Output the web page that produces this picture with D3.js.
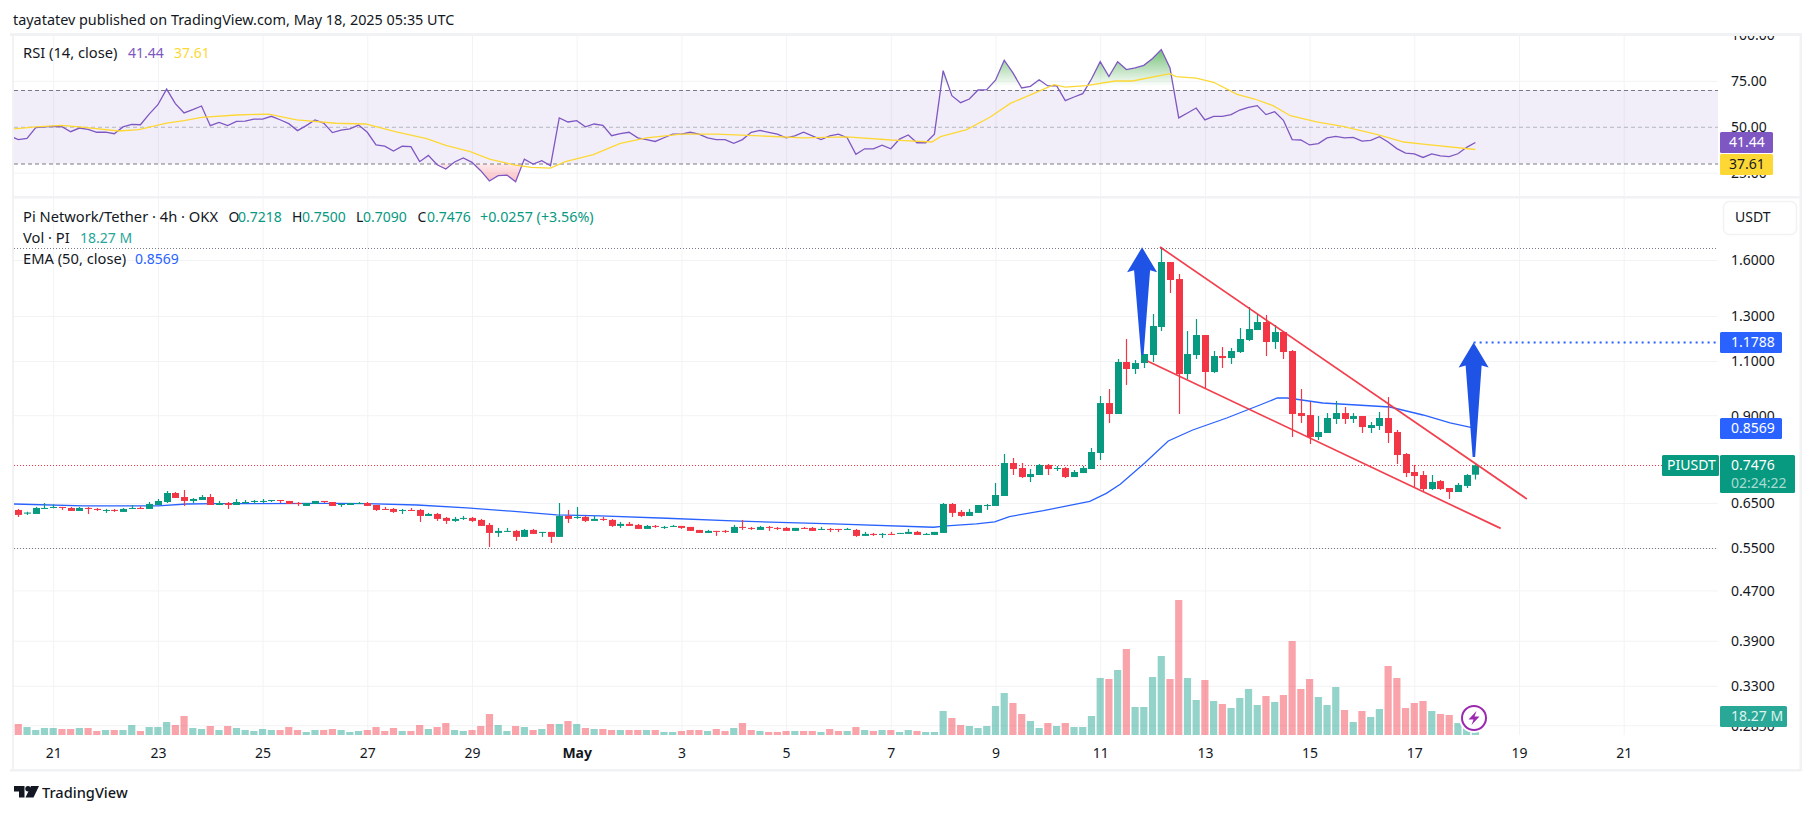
<!DOCTYPE html>
<html><head><meta charset="utf-8">
<script src="https://cdn.jsdelivr.net/npm/d3@7/dist/d3.min.js"></script>
<style>html,body{margin:0;padding:0;background:#fff;overflow:hidden}svg{display:block}text{font-family:"Noto Sans",sans-serif}</style>
</head><body><svg id="c" width="1814" height="814"></svg>
<script>
const opens=[.6333,.6248,.6240,.6357,.6380,.6404,.6380,.6310,.6380,.6357,.6310,.6333,
.6287,.6357,.6380,.6357,.6451,.6523,.6744,.6645,.6548,.6572,.6645,.6451,
.6499,.6451,.6499,.6523,.6523,.6548,.6572,.6548,.6499,.6428,.6475,.6548,
.6523,.6451,.6451,.6475,.6499,.6451,.6357,.6357,.6310,.6333,.6333,.6194,
.6240,.6149,.6081,.6126,.6149,.6103,.5991,.5816,.5838,.5860,.5731,.5881,
.5816,.5838,.5731,.6194,.6149,.6171,.6081,.6126,.6103,.5969,.6014,.5991,
.5903,.5969,.5925,.5947,.5969,.5947,.5881,.5816,.5860,.5860,.5816,.5947,
.5925,.5881,.5947,.5925,.5925,.5860,.5925,.5925,.5881,.5903,.5903,.5881,
.5881,.5752,.5795,.5773,.5795,.5795,.5795,.5838,.5773,.5773,.5816,.6475,
.6287,.6194,.6264,.6428,.6428,.6670,.7537,.7398,.7155,.7209,.7483,.7371,
.7398,.7155,.7262,.7371,.7822,.9414,.9039,1.0961,1.0680,1.0920,1.1249,1.2480,
1.5881,1.4910,1.0483,1.1249,1.2115,1.0562,1.1207,1.1124,1.1375,1.1893,1.2342,1.2713,
1.1805,1.2250,1.1417,.9072,.9005,.8300,.8424,.8873,.9072,.8873,.8972,.8582,
.8645,.8906,.8455,.7793,.7290,.7209,.6844,.7050,.6870,.6769,.6923,.7218];
const closes=[.6217,.6272,.6380,.6380,.6404,.6380,.6310,.6380,.6357,.6333,.6333,.6310,
.6357,.6380,.6357,.6475,.6548,.6744,.6621,.6548,.6596,.6645,.6451,.6499,
.6451,.6523,.6523,.6548,.6548,.6572,.6548,.6475,.6475,.6499,.6548,.6523,
.6428,.6475,.6499,.6499,.6428,.6333,.6333,.6287,.6333,.6310,.6194,.6240,
.6126,.6081,.6126,.6149,.6081,.5969,.5816,.5860,.5860,.5731,.5881,.5795,
.5838,.5731,.6194,.6126,.6171,.6081,.6126,.6103,.5969,.6014,.5969,.5903,
.5969,.5947,.5947,.5969,.5925,.5860,.5816,.5860,.5838,.5838,.5947,.5925,
.5903,.5947,.5925,.5903,.5860,.5925,.5903,.5860,.5903,.5881,.5881,.5903,
.5752,.5795,.5773,.5795,.5773,.5816,.5838,.5773,.5795,.5838,.6475,.6264,
.6194,.6287,.6451,.6451,.6694,.7537,.7371,.7155,.7236,.7483,.7371,.7398,
.7155,.7290,.7398,.7851,.9414,.9039,1.0961,1.0680,1.0920,1.1291,1.2526,1.5881,
1.4856,1.0483,1.1291,1.2115,1.0562,1.1207,1.1124,1.1417,1.1937,1.2387,1.2713,1.1805,
1.2250,1.1375,.9039,.8972,.8300,.8455,.8906,.9072,.8873,.8972,.8613,.8677,
.8906,.8424,.7764,.7262,.7182,.6844,.7025,.6844,.6769,.6949,.7209,.7476];
const highs=[.6357,.6292,.6404,.6499,.6467,.6404,.6404,.6404,.6404,.6380,.6357,.6357,
.6380,.6451,.6420,.6523,.6596,.6794,.6769,.6819,.6621,.6694,.6719,.6548,
.6523,.6596,.6572,.6572,.6596,.6572,.6572,.6548,.6523,.6499,.6548,.6548,
.6523,.6499,.6499,.6523,.6523,.6451,.6404,.6380,.6357,.6380,.6357,.6264,
.6264,.6171,.6171,.6194,.6171,.6126,.6036,.5925,.5925,.5881,.5903,.5903,
.5838,.5838,.6499,.6333,.6404,.6194,.6194,.6171,.6126,.6058,.6058,.6014,
.5991,.5991,.5969,.5991,.5969,.5947,.5881,.5881,.5860,.5881,.5991,.6103,
.5947,.5969,.5969,.5947,.5947,.5925,.5947,.5947,.5947,.5925,.5903,.5925,
.5903,.5838,.5816,.5816,.5838,.5816,.5903,.5860,.5816,.5838,.6499,.6499,
.6333,.6357,.6451,.6475,.6999,.7793,.7678,.7537,.7371,.7510,.7510,.7456,
.7425,.7344,.7456,.7968,.9663,.9917,1.1084,1.1937,1.1042,1.1291,1.3096,1.6789,
1.5881,1.5190,1.2296,1.2855,1.2115,1.1417,1.1587,1.1545,1.2434,1.3440,1.3096,1.3047,
1.2573,1.2296,1.1459,.9917,.9450,.8972,.9072,.9485,.9277,.9072,.8972,.8775,
.9106,.9626,.8518,.7822,.7483,.7317,.7209,.7076,.6870,.6999,.7236,.7500];
const lows=[.6171,.6217,.6240,.6357,.6372,.6333,.6310,.6310,.6240,.6310,.6264,.6287,
.6287,.6357,.6357,.6357,.6451,.6499,.6621,.6428,.6499,.6572,.6451,.6451,
.6357,.6451,.6475,.6475,.6499,.6523,.6499,.6475,.6428,.6428,.6475,.6499,
.6428,.6404,.6451,.6475,.6428,.6310,.6333,.6264,.6240,.6310,.6058,.6194,
.6081,.6014,.6058,.6103,.6058,.5969,.5521,.5731,.5838,.5646,.5731,.5795,
.5731,.5604,.5731,.6036,.6126,.6058,.6081,.6081,.5947,.5925,.5969,.5903,
.5903,.5925,.5903,.5947,.5903,.5860,.5816,.5816,.5752,.5816,.5816,.5881,
.5881,.5881,.5860,.5881,.5860,.5860,.5903,.5860,.5881,.5838,.5838,.5881,
.5731,.5752,.5752,.5709,.5773,.5795,.5795,.5773,.5773,.5773,.5816,.6171,
.6171,.6194,.6264,.6333,.6428,.6670,.7209,.7129,.7025,.7209,.7209,.7317,
.7129,.7155,.7262,.7371,.7621,.8742,.9039,1.0065,1.0483,1.0719,1.0961,1.2296,
1.4157,.9039,1.0291,1.1084,.9954,1.0523,1.0719,1.0880,1.1333,1.1848,1.2342,1.1207,
1.1502,1.1084,.8300,.8742,.8087,.8208,.8424,.8710,.8710,.8742,.8424,.8424,
.8518,.8117,.7510,.7155,.6898,.6794,.6819,.6819,.6596,.6769,.6870,.7090];
const volumesM=[60.5,44,27.5,38.5,38.5,33,33,38.5,38.5,22,27.5,27.5,
27.5,55,22,44,44,71.5,55,104.5,38.5,33,49.5,27.5,
49.5,38.5,27.5,22,33,27.5,27.5,44,27.5,16.5,27.5,27.5,
33,27.5,16.5,22,27.5,44,22,38.5,22,22,55,33,
44,66,27.5,22,27.5,49.5,115.5,55,22,49.5,44,27.5,
33,60.5,60.5,77,60.5,38.5,33,33,27.5,27.5,27.5,27.5,
27.5,27.5,16.5,16.5,22,27.5,27.5,22,33,22,38.5,66,
27.5,22,16.5,16.5,22,22,22,22,16.5,33,22,22,
44,27.5,22,27.5,27.5,16.5,27.5,22,16.5,16.5,132,93.5,
55,49.5,38.5,49.5,159.5,231,176,115.5,77,38.5,66,49.5,
66,44,44,104.5,313.5,308,357.5,473,154,154,319,434.5,
308,742.5,313.5,192.5,302.5,187,170.5,148.5,203.5,253,165,214.5,
181.5,220,517,253,308,209,165,264,137.5,71.5,132,99,
143,379.5,313.5,148.5,176,187,132,115.5,110,66,49.5,18.27];
// RSI: first value belongs to bar -1 (clipped by the pane edge)
const rsiValues=[45.1,43.0,43.7,49.5,49.9,50.2,50.0,47.3,49.3,48.6,47.0,47.1,46.2,
49.9,51.3,51.1,56.9,62.0,70.5,62.6,57.5,59.3,61.3,50.6,52.4,
50.6,52.9,53.1,54.2,54.2,55.7,53.8,51.7,47.9,50.6,53.7,52.0,
46.8,48.2,48.9,50.9,47.0,40.1,39.4,36.8,39.4,39.2,31.0,34.4,
29.3,27.0,30.8,33.0,30.6,26.1,20.5,23.4,23.7,20.1,32.4,29.7,
31.5,28.8,54.8,52.6,53.3,50.0,51.5,50.8,45.1,46.2,47,44,
43,42,44,46,46,47,46,44,43,43,41,43,
47,48,47,46,44,45,47,45,43,45,46,44,
35,38,38,40,38,43.3,45.5,41.3,41.3,46.0,80.5,66.9,
63.1,65.1,70,70.2,75.3,86.2,79.3,71.1,72,75.6,72.2,72.4,
64.2,66.2,68,76,85.4,77.3,85.4,81.1,82,83.4,87.2,92,
82,54.8,57.5,60.2,53.7,55.7,55.7,56.6,59.1,60.6,61.5,56.6,
58.2,53.5,43,42.8,40.1,40.8,43.9,44.8,44,44.2,42.2,42.6,
44.6,41.7,38.1,35.7,35.2,33.3,35.2,34.2,33.7,35.3,38.8,41.44];
const rsiMaBars=[-0.5,2,5,7,11.5,13.8,17,19,21,25,28.7,31.9,36.4,39.8,43.2,46.8,49,51.8,54,56.8,58.8,61,62.7,65.9,69,72,76,80,85,90,95,100,101,104.7,105.7,108.7,111.4,113.7,116.4,118.7,120,122.4,125.7,127.7,132,132.7,135,137,139.7,141.7,143.8,145.8,148.8,151.8,155.8,158.8,161,167];
const rsiMaValues=[48.8,49.9,50.8,49.9,47.7,48.4,52,53.3,55.1,56.4,56.9,53.7,51.9,51.5,47.3,43.5,39.9,36.4,32.4,29.3,27.9,27.5,31,34.8,41,44,46,46,45,44,44.5,42.8,42.6,41.7,44.6,48.4,55.3,62.7,68.2,72.9,71.6,72.4,74.9,74.9,78.9,77.3,76.5,74.2,67.6,65.1,61.5,56,52.6,50.2,45.7,41.7,40.6,37.61];
const emaBars=[-0.6,7.45,16,19.3,22.7,36.1,39.9,45.7,51.4,55.2,61.7,66.7,74.3,81.9,93.4,104.9,106.4,109.8,111.9,113.6,117.5,122.8,124.7,126.3,129.1,131.8,134.6,138.5,142.3,144.3,145.4,146.3,149.5,153.4,157.2,161,164.1,167];
const emaValues=[.6475,.6428,.6428,.6475,.6483,.6491,.6483,.6451,.6380,.6325,.6217,.6194,.6141,.6081,.6014,.5940,.5969,.6014,.6058,.6179,.6318,.6540,.6736,.6967,.7538,.8178,.8519,.8906,.9346,.9592,.9592,.9557,.9416,.9346,.9277,.9006,.8743,.8569];
const priceTicks=[1.6,1.3,1.1,.9,.65,.55,.47,.39,.33,.285];
const rsiTicks=[100,75,50,25];
const timeTickBars=[4,16,28,40,52,64,76,88,100,112,124,136,148,160,172,184];
const timeTickLabels=["21","23","25","27","29","May","3","5","7","9","11","13","15","17","19","21"];
const trendUpperBars=[130.85,172.9], trendUpperPrices=[1.679,.6597];
const trendLowerBars=[129.4,169.9], trendLowerPrices=[1.1001,.5915];
const arrowBars=[128.8,166.8], arrowTipPrices=[1.677,1.1788], arrowTailPrices=[1.1248,.7706];
const highLevel=1.6747, lowLevel=.5507, lastClose=.7476, targetPrice=1.1788, emaLast=.8569;

const C={green:"#089981",red:"#f23645",purple:"#7e57c2",yellow:"#fdd835",blue:"#2962ff",text:"#131722",grid:"#f2f3f5",frame:"#f1f2f3"};
const L={l:14,r:1718,top:36,sep:197,bot:735};
const svg=d3.select("#c");
const defs=svg.append("defs");
const bars=d3.range(opens.length);
const x=d3.scaleLinear([0,167],[18.3,18.3+8.725*167]);
const yP=d3.scaleLog([.55,1.6],[548,260]);
const yR=d3.scaleLinear([30,70],[163.5,90]);
const yV=d3.scaleLinear([0,742.5],[735,600]);

function clip(id,x0,y0,w,h){defs.append("clipPath").attr("id",id).append("rect").attr("x",x0).attr("y",y0).attr("width",w).attr("height",h);}
clip("plot",L.l,L.top,L.r-L.l,L.bot-L.top);
clip("above70",L.l,L.top,L.r-L.l,yR(70)-L.top);
clip("below30",L.l,yR(30),L.r-L.l,40);
clip("axisClip",L.r,35,90,L.bot-35);
function grad(id,y1,y2,stops){const g=defs.append("linearGradient").attr("id",id).attr("gradientUnits","userSpaceOnUse").attr("x1",0).attr("x2",0).attr("y1",y1).attr("y2",y2);
 stops.forEach(s=>g.append("stop").attr("offset",s[0]).attr("stop-color",s[1]).attr("stop-opacity",s[2]));}
grad("gGreen",yR(90),yR(72),[[0,"#4caf50",.7],[1,"#4caf50",0]]);
grad("gRed",yR(30),yR(20),[[0,"#f23645",.1],[1,"#f23645",.32]]);

// grid
const gGrid=svg.append("g");
[[L.top,L.sep],[L.sep,L.bot]].forEach(([a,b])=>{
 gGrid.append("g").attr("transform",`translate(0,${b})`).call(d3.axisBottom(x).tickValues(timeTickBars.filter(v=>x(v)<L.r)).tickSize(a-b).tickFormat("")).call(s=>{s.select(".domain").remove();s.selectAll("line").attr("stroke",C.grid);});
});
gGrid.append("g").attr("transform",`translate(${L.l},0)`).call(d3.axisLeft(yP).tickValues(priceTicks).tickSize(L.l-L.r).tickFormat("")).call(s=>{s.select(".domain").remove();s.selectAll("line").attr("stroke",C.grid);});
gGrid.append("g").attr("transform",`translate(${L.l},0)`).call(d3.axisLeft(yR).tickValues([75,25]).tickSize(L.l-L.r).tickFormat("")).call(s=>{s.select(".domain").remove();s.selectAll("line").attr("stroke",C.grid);});

// RSI pane
svg.append("rect").attr("x",L.l).attr("width",L.r-L.l).attr("y",yR(70)).attr("height",yR(30)-yR(70)).attr("fill",C.purple).attr("opacity",.1);
[[70,"#787b86"],[50,"#b2b5be"],[30,"#787b86"]].forEach(([v,c])=>svg.append("line").attr("x1",L.l).attr("x2",L.r).attr("y1",yR(v)+.5).attr("y2",yR(v)+.5).attr("stroke",c).attr("stroke-dasharray","4 3"));
const rsiPts=rsiValues.map((v,k)=>[k-1,v]);
const gR=svg.append("g").attr("clip-path","url(#plot)");
const area=base=>d3.area().x(d=>x(d[0])).y0(yR(base)).y1(d=>yR(d[1]));
gR.append("g").attr("clip-path","url(#above70)").append("path").attr("d",area(70)(rsiPts)).attr("fill","url(#gGreen)");
gR.append("g").attr("clip-path","url(#below30)").append("path").attr("d",area(30)(rsiPts)).attr("fill","url(#gRed)");
gR.append("path").attr("d",d3.line().x(d=>x(d[0])).y(d=>yR(d[1]))(rsiPts)).attr("fill","none").attr("stroke",C.purple).attr("stroke-width",1.3);
gR.append("path").attr("d",d3.line().x((d,k)=>x(d)).y((d,k)=>yR(rsiMaValues[k]))(rsiMaBars)).attr("fill","none").attr("stroke",C.yellow).attr("stroke-width",1.3);

// volume
const gV=svg.append("g").attr("clip-path","url(#plot)");
gV.selectAll("rect").data(bars).join("rect").attr("x",i=>x(i)-3.6).attr("width",7.2).attr("y",i=>yV(volumesM[i])).attr("height",i=>yV(0)-yV(volumesM[i]))
 .attr("fill",i=>closes[i]>=opens[i]?C.green:C.red).attr("opacity",i=>closes[i]>=opens[i]?.43:.45);

// level lines
[[highLevel,"#787b86"],[lowLevel,"#787b86"],[lastClose,C.red]].forEach(([p,c])=>svg.append("line").attr("x1",L.l).attr("x2",L.r).attr("y1",Math.round(yP(p))+.5).attr("y2",Math.round(yP(p))+.5).attr("stroke",c).attr("stroke-dasharray","1 2"));
svg.append("line").attr("x1",x(166.8)).attr("x2",L.r-2).attr("y1",yP(targetPrice)).attr("y2",yP(targetPrice)).attr("stroke",C.blue).attr("stroke-width",2).attr("stroke-dasharray","2 4");

// EMA
svg.append("path").attr("d",d3.line().x(d=>x(d)).y((d,k)=>yP(emaValues[k]))(emaBars)).attr("fill","none").attr("stroke",C.blue).attr("stroke-width",1.3).attr("clip-path","url(#plot)");

// candles
const gC=svg.append("g");
const col=i=>closes[i]>=opens[i]?C.green:C.red;
gC.selectAll("line").data(bars).join("line").attr("x1",i=>Math.round(x(i))+.5).attr("x2",i=>Math.round(x(i))+.5).attr("y1",i=>yP(highs[i])).attr("y2",i=>yP(lows[i])).attr("stroke",col).attr("stroke-width",1.2);
gC.selectAll("rect").data(bars).join("rect").attr("x",i=>Math.round(x(i))+.5-3.5).attr("width",7).attr("y",i=>yP(Math.max(opens[i],closes[i]))).attr("height",i=>Math.max(1,yP(Math.min(opens[i],closes[i]))-yP(Math.max(opens[i],closes[i])))).attr("fill",col);

// trend lines
[[trendUpperBars,trendUpperPrices],[trendLowerBars,trendLowerPrices]].forEach(([b,p])=>svg.append("line").attr("x1",x(b[0])).attr("x2",x(b[1])).attr("y1",yP(p[0])).attr("y2",yP(p[1])).attr("stroke",C.red).attr("stroke-width",1.7).attr("opacity",.95));

// arrows
arrowBars.forEach((b,k)=>{
 const cx=x(b),t=yP(arrowTipPrices[k]),e=yP(arrowTailPrices[k]);
 const pts=[[cx,t],[cx+15,t+25],[cx+8,t+23],[cx+1.5,e],[cx-1,e],[cx-8,t+23],[cx-15,t+25]];
 svg.append("path").attr("d",d3.line()(pts)+"Z").attr("fill","#1e53e5");
});

// frame
const fr=(a,b,w,h)=>svg.append("rect").attr("x",a).attr("y",b).attr("width",w).attr("height",h).attr("fill",C.frame);

// axes labels
const gAx=svg.append("g").attr("clip-path","url(#axisClip)");
const styleAxis=s=>{s.select(".domain").remove();s.selectAll("line").remove();s.selectAll("text").attr("x",0).attr("text-anchor","start").attr("fill",C.text).attr("font-size",14).attr("dy",".35em");};
gAx.append("g").attr("transform","translate(1731,0)").call(d3.axisRight(yP).tickValues(priceTicks).tickFormat(d3.format(".4f"))).call(styleAxis);
gAx.append("g").attr("transform","translate(1731,0)").call(d3.axisRight(yR).tickValues(rsiTicks).tickFormat(d3.format(".2f"))).call(styleAxis);
svg.append("g").attr("transform",`translate(0,745)`).call(d3.axisBottom(x).tickValues(timeTickBars).tickSize(0).tickFormat((d,k)=>timeTickLabels[k])).call(s=>{s.select(".domain").remove();s.selectAll("text").attr("fill",C.text).attr("font-size",14).attr("dy",".7em").attr("font-weight",(d,k)=>timeTickLabels[k]==="May"?700:400);});

fr(10,33,1791,3);fr(12,196,1789,2.5);fr(10,769,1791,2.5);fr(12,33,2,738);fr(1799.5,33,2.5,738);

// badges
function badge(a,b,w,h,fill,lines,opt={}){
 svg.append("rect").attr("x",a).attr("y",b).attr("width",w).attr("height",h).attr("rx",1.5).attr("fill",fill);
 lines.forEach(l=>svg.append("text").attr("x",a+(opt.dx||11)).attr("y",l[1]).attr("fill",l[2]||"#fff").attr("font-size",14).attr("dy",".35em").text(l[0]));
}
badge(1720,132,53,21,C.purple,[["41.44",142.5]],{dx:9});
badge(1720,154,53,21,C.yellow,[["37.61",164.5,C.text]],{dx:9});
badge(1720,332,62,21,C.blue,[["1.1788",342.5]]);
badge(1720,418,62,21,C.blue,[["0.8569",428.5]]);
badge(1662,455,57,21,C.green,[["PIUSDT",465.5]],{dx:5});
badge(1720,455,75,38,C.green,[["0.7476",465.5],["02:24:22",483.5,"#a9dcd2"]]);
badge(1720,706,67,21,"#2aa897",[["18.27 M",716.5,"#dff3ef"]]);
svg.append("rect").attr("x",1723.5).attr("y",201.5).attr("width",73).attr("height",33).attr("rx",6).attr("fill","#fff").attr("stroke",C.frame).attr("stroke-width",1.5);
svg.append("text").attr("x",1735).attr("y",217.5).attr("dy",".35em").attr("fill",C.text).attr("font-size",14).text("USDT");

// bolt badge
const bolt=svg.append("g").attr("transform","translate(1474,718)");
bolt.append("circle").attr("r",15).attr("fill","#fff");
bolt.append("circle").attr("r",12).attr("fill","#fff").attr("stroke","#9c27b0").attr("stroke-width",2);
bolt.append("path").attr("d","M2.5 -7L-5.5 1.5H-.5L-2.5 7L5.5 -1.5H.5Z").attr("fill","#9c27b0");

// legends
function t(a,b,s,c,o={}){return svg.append("text").attr("x",a).attr("y",b).attr("dy",".35em").attr("fill",c||C.text).attr("font-size",o.size||14).attr("font-weight",o.w||400).text(s);}
const nameSize={size:14.7};
t(13,20,"tayatatev published on TradingView.com, May 18, 2025 05:35 UTC",C.text,{size:14.4});
t(23,53,"RSI (14, close)",C.text,nameSize);t(128,53,"41.44",C.purple);t(174,53,"37.61",C.yellow);
t(23,217,"Pi Network/Tether · 4h · OKX",C.text,nameSize);
t(228.5,217,"O");t(238,217,"0.7218",C.green);
t(292,217,"H");t(302,217,"0.7500",C.green);
t(356,217,"L");t(363,217,"0.7090",C.green);
t(417.5,217,"C");t(427,217,"0.7476",C.green);
t(480,217,"+0.0257 (+3.56%)",C.green,{size:14.3});
t(23,238,"Vol · PI",C.text,nameSize);t(80,238,"18.27 M","#26a69a");
t(23,259,"EMA (50, close)",C.text,nameSize);t(135,259,String(emaLast),C.blue);

// logo
const lg=svg.append("g").attr("transform","translate(14,786)").attr("fill","#131722");
lg.append("path").attr("d","M0 0H10.5V11.5H5V5.5H0Z");
lg.append("circle").attr("cx",14).attr("cy",2.7).attr("r",2.7);
lg.append("path").attr("d","M17 0H25L19.5 11.5H11.5Z");
t(42,793,"TradingView",C.text,{size:14.6,w:500});
</script></body></html>
